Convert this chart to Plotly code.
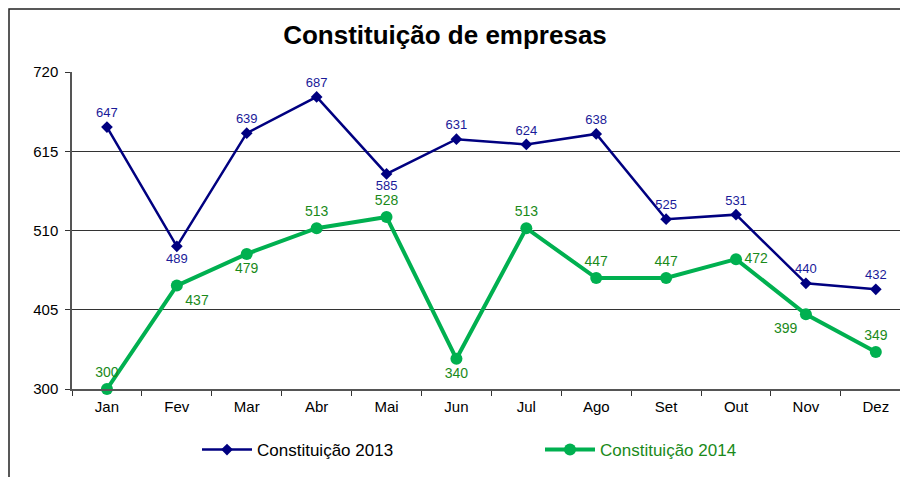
import plotly.graph_objects as go

months = ["Jan", "Fev", "Mar", "Abr", "Mai", "Jun", "Jul", "Ago", "Set", "Out", "Nov", "Dez"]
v2013 = [647, 489, 639, 687, 585, 631, 624, 638, 525, 531, 440, 432]
v2014 = [300, 437, 479, 513, 528, 340, 513, 447, 447, 472, 399, 349]
yticks = [300, 405, 510, 615, 720]

pos2013 = ["top center", "bottom center", "top center", "top center", "bottom center", "top center",
           "top center", "top center", "top center", "top center", "top center", "top center"]
pos2014 = ["top center", "bottom right", "bottom center", "top center", "top center", "bottom center",
           "top center", "top center", "top center", "middle right", "bottom left", "top center"]

fig = go.Figure()
fig.add_trace(go.Scatter(
    x=months, y=v2013, name="Constituição 2013", mode="lines+markers+text",
    line=dict(color="#000080", width=2.5),
    marker=dict(symbol="diamond", size=9, color="#000080"),
    text=[str(v) for v in v2013], textposition=pos2013,
    textfont=dict(color="#1a1a99", size=13, family="Liberation Sans, Arial"),
    cliponaxis=False, legend="legend",
))
fig.add_trace(go.Scatter(
    x=months, y=v2014, name="Constituição 2014", mode="lines+markers+text",
    line=dict(color="#00b050", width=4),
    marker=dict(symbol="circle", size=12, color="#00b050"),
    text=[str(v) for v in v2014], textposition=pos2014,
    textfont=dict(color="#1a8a1a", size=14, family="Liberation Sans, Arial"),
    cliponaxis=False, legend="legend2",
))

# page is offset by the 8px body margin; coordinates below are figure pixels
L, T, B = 64, 64, 381
W = 908 - L
H = B - T
LEG_Y = 442

fig.update_layout(
    width=908, height=477,
    margin=dict(l=L, r=0, t=T, b=477 - B, pad=0, autoexpand=False),
    paper_bgcolor="white", plot_bgcolor="white",
    font=dict(family="Liberation Sans, Arial", size=15, color="black"),
    title=dict(text="<b>Constituição de empresas</b>", x=437 / 908, xanchor="center",
               y=1 - 27 / 477, yanchor="middle", font=dict(size=26, color="black")),
    showlegend=True,
    legend=dict(orientation="h", x=(189 - L) / W, xanchor="left", y=-(LEG_Y - B) / H, yanchor="middle",
                font=dict(size=17, color="black"), itemwidth=50, bgcolor="rgba(0,0,0,0)"),
    legend2=dict(orientation="h", x=(532 - L) / W, xanchor="left", y=-(LEG_Y - B) / H, yanchor="middle",
                 font=dict(size=17, color="#1a8a1a"), itemwidth=50, bgcolor="rgba(0,0,0,0)"),
    xaxis=dict(range=[-0.5, 11.575], showgrid=False, showline=True, linecolor="#555", linewidth=1.5,
               ticks="outside", tickson="boundaries", ticklen=5, tickcolor="#333",
               ticklabelstandoff=3, tickfont=dict(size=15), fixedrange=True),
    yaxis=dict(range=[300, 720], tickvals=yticks, showgrid=True, gridcolor="#333", gridwidth=1,
               showline=True, linecolor="#555", linewidth=1.5, zeroline=False,
               ticks="outside", ticklen=5, tickcolor="#333", ticklabelstandoff=4,
               tickfont=dict(size=15)),
    shapes=[dict(type="rect", xref="paper", yref="paper",
                 x0=(1 - L) / W, x1=(920 - L) / W, y0=(B - 490) / H, y1=(B - 1) / H,
                 line=dict(color="#222", width=1.5), fillcolor="rgba(0,0,0,0)", layer="below")],
)

fig.write_html("out.html")
